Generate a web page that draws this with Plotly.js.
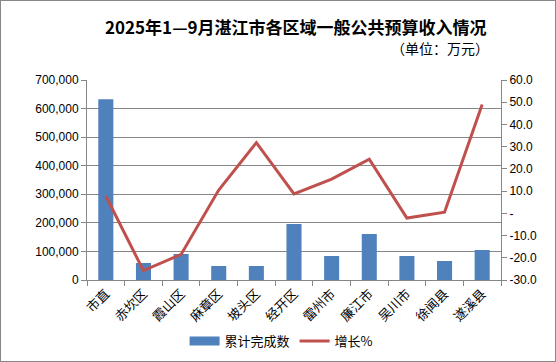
<!DOCTYPE html>
<html>
<head>
<meta charset="utf-8">
<script src="https://cdn.plot.ly/plotly-3.0.1.min.js"></script>
<style>
  html, body { margin: 0; padding: 0; background: #fff; }
  #wrap { position: relative; width: 556px; height: 362px; }
  #chart { width: 556px; height: 362px; }
  #frame { position: absolute; left: 0; top: 0; width: 556px; height: 362px;
           box-sizing: border-box; border: 1px solid #888; pointer-events: none; }
</style>
</head>
<body>
<div id="wrap">
  <div id="chart"></div>
  <div id="frame"></div>
</div>
<script>
// 2025年1—9月 湛江市各区域一般公共预算收入
const districts = ['市直', '赤坎区', '霞山区', '麻章区', '坡头区', '经开区', '雷州市', '廉江市', '吴川市', '徐闻县', '遂溪县'];
const completed = [633000, 59500, 91000, 49000, 49000, 196000, 84000, 161000, 84000, 66500, 105000];
const growth = [7.8, -25.8, -18.5, 10.5, 31.8, 8.7, 15.4, 24.4, -2.1, 0.5, 49.0];

const leftTicks = [0, 100000, 200000, 300000, 400000, 500000, 600000, 700000];
const rightTicks = [-30, -20, -10, 0, 10, 20, 30, 40, 50, 60];
const rightLabels = rightTicks.map(v => v === 0 ? '-' : v.toFixed(1));

const font = 'Liberation Sans, "Noto Sans CJK SC", sans-serif';
const cjk = '"Noto Sans CJK SC", sans-serif';
const barColor = '#4F81BD';

const data = [
    {
        type: 'bar',
        name: '累计完成数',
        x: districts,
        y: completed,
        width: 0.4,
        showlegend: false,
        marker: { color: barColor }
    },
    // legend entry only: wide swatch like the office-style legend
    {
        type: 'scatter',
        mode: 'lines',
        name: '累计完成数',
        x: [null],
        y: [null],
        line: { color: barColor, width: 9 }
    },
    {
        type: 'scatter',
        mode: 'lines',
        name: '增长%',
        x: districts,
        y: growth,
        yaxis: 'y2',
        line: { color: '#C0504D', width: 3 }
    }
];

const layout = {
    width: 556,
    height: 362,
    margin: { l: 87, r: 55, t: 80, b: 82 },
    paper_bgcolor: '#fff',
    plot_bgcolor: '#fff',
    font: { family: font, size: 12, color: '#000' },
    showlegend: true,
    legend: {
        orientation: 'h',
        xref: 'paper',
        x: 0.47, xanchor: 'center',
        yref: 'container',
        y: 0.058, yanchor: 'middle',
        font: { family: cjk, size: 13 },
        itemwidth: 30,
        tracegroupgap: 0,
        traceorder: 'normal'
    },
    bargap: 0.6,
    xaxis: {
        type: 'category',
        automargin: false,
        showline: true,
        linecolor: '#868686',
        ticks: 'outside',
        tickson: 'boundaries',
        ticklen: 5,
        tickcolor: '#868686',
        tickangle: -45,
        tickfont: { family: cjk, size: 13 },
        showgrid: false
    },
    yaxis: {
        range: [0, 700000],
        automargin: false,
        tickvals: leftTicks,
        tickformat: ',d',
        showline: true,
        linecolor: '#868686',
        ticks: 'outside',
        ticklen: 5,
        tickcolor: '#868686',
        gridcolor: '#868686',
        gridwidth: 1,
        zeroline: false,
        tickfont: { size: 12 }
    },
    yaxis2: {
        overlaying: 'y',
        side: 'right',
        automargin: false,
        range: [-30, 60],
        tickvals: rightTicks,
        ticktext: rightLabels,
        showline: true,
        linecolor: '#868686',
        ticks: 'outside',
        ticklen: 5,
        tickcolor: '#868686',
        showgrid: false,
        zeroline: false,
        tickfont: { size: 12 }
    },
    annotations: [
        {
            text: '<b>2025年1—9月湛江市各区域一般公共预算收入情况</b>',
            xref: 'paper', yref: 'paper',
            x: 0.97, y: 1.27,
            xanchor: 'right', yanchor: 'middle',
            showarrow: false,
            font: { family: cjk, size: 17, color: '#000' }
        },
        {
            text: '（单位：万元）',
            xref: 'paper', yref: 'paper',
            x: 0.975, y: 1.16,
            xanchor: 'right', yanchor: 'middle',
            showarrow: false,
            font: { family: cjk, size: 14, color: '#000' }
        }
    ]
};

Plotly.newPlot('chart', data, layout, { displayModeBar: false, staticPlot: true });
</script>
</body>
</html>
